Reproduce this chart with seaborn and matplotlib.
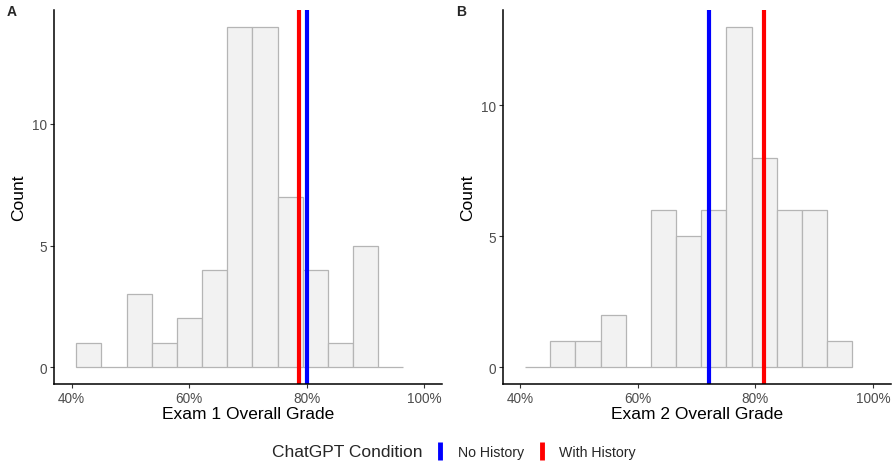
import numpy as np
import pandas as pd
import seaborn as sns
import matplotlib.pyplot as plt
from matplotlib.lines import Line2D
from matplotlib.ticker import PercentFormatter

# bin edges shared by both exams (13 bins, ~41% to ~96.5%)
bin_edges = list(np.linspace(0.408, 0.9645, 14))

# counts per bin
exam1_counts = [1, 0, 3, 1, 2, 4, 14, 14, 7, 4, 1, 5, 0]
exam2_counts = [0, 1, 1, 2, 0, 6, 5, 6, 13, 8, 6, 6, 1]

# mean grade per ChatGPT condition
conditions = ["No History", "With History"]
exam1_means = [0.801, 0.787]
exam2_means = [0.721, 0.814]
cond_colors = {"No History": "#0000FF", "With History": "#FF0000"}

sns.set_theme(style="ticks")
plt.rcParams["font.family"] = ["Liberation Sans", "DejaVu Sans"]

fig = plt.figure(figsize=(8.94, 4.64), dpi=100)
ax_a = fig.add_axes([0.0604, 0.170, 0.4337, 0.807])
ax_b = fig.add_axes([0.5623, 0.170, 0.4340, 0.807])

centers = [(lo + hi) / 2 for lo, hi in zip(bin_edges[:-1], bin_edges[1:])]

panels = [
    (ax_a, exam1_counts, exam1_means, "Exam 1 Overall Grade"),
    (ax_b, exam2_counts, exam2_means, "Exam 2 Overall Grade"),
]

for ax, counts, means, xlab in panels:
    df = pd.DataFrame({"grade": centers, "n": counts})
    sns.histplot(data=df, x="grade", weights="n", bins=bin_edges, ax=ax,
                 color="#f2f2f2", edgecolor="#b5b5b5", linewidth=0.9, alpha=1)
    for cond, m in zip(conditions, means):
        ax.axvline(m, color=cond_colors[cond], linewidth=3)
    top = max(counts)
    ax.set_ylim(-0.05 * top, top * 1.05)
    ax.set_xlim(0.37, 1.03)
    ax.set_xticks([0.4, 0.6, 0.8, 1.0])
    ax.set_yticks([0, 5, 10])
    ax.xaxis.set_major_formatter(PercentFormatter(xmax=1, decimals=0))
    ax.set_xlabel(xlab, fontsize=12.5, color="black", labelpad=1)
    ax.set_ylabel("Count", fontsize=12.5, color="black", labelpad=4)
    ax.tick_params(axis="both", labelsize=9.8, labelcolor="#4d4d4d",
                   color="#333333", length=3, width=0.8, pad=2)
    for side in ["top", "right"]:
        ax.spines[side].set_visible(False)
    for side in ["left", "bottom"]:
        ax.spines[side].set_linewidth(1.1)
        ax.spines[side].set_color("black")

fig.text(0.008, 0.975, "A", fontsize=10, fontweight="bold", va="center")
fig.text(0.510, 0.975, "B", fontsize=10, fontweight="bold", va="center")

# legend at the bottom
fig.text(0.304, 0.024, "ChatGPT Condition", fontsize=12.5, va="center")
handles = [Line2D([], [], color=cond_colors[c], marker="|", linestyle="None",
                  markersize=13, markeredgewidth=3.5) for c in conditions]
fig.legend(handles, conditions, loc="center left", bbox_to_anchor=(0.470, 0.024),
           ncol=2, frameon=False, fontsize=10.2, handlelength=1.0,
           handletextpad=0.75, columnspacing=0.75)

plt.savefig("out.png", dpi=100)
plt.close()
